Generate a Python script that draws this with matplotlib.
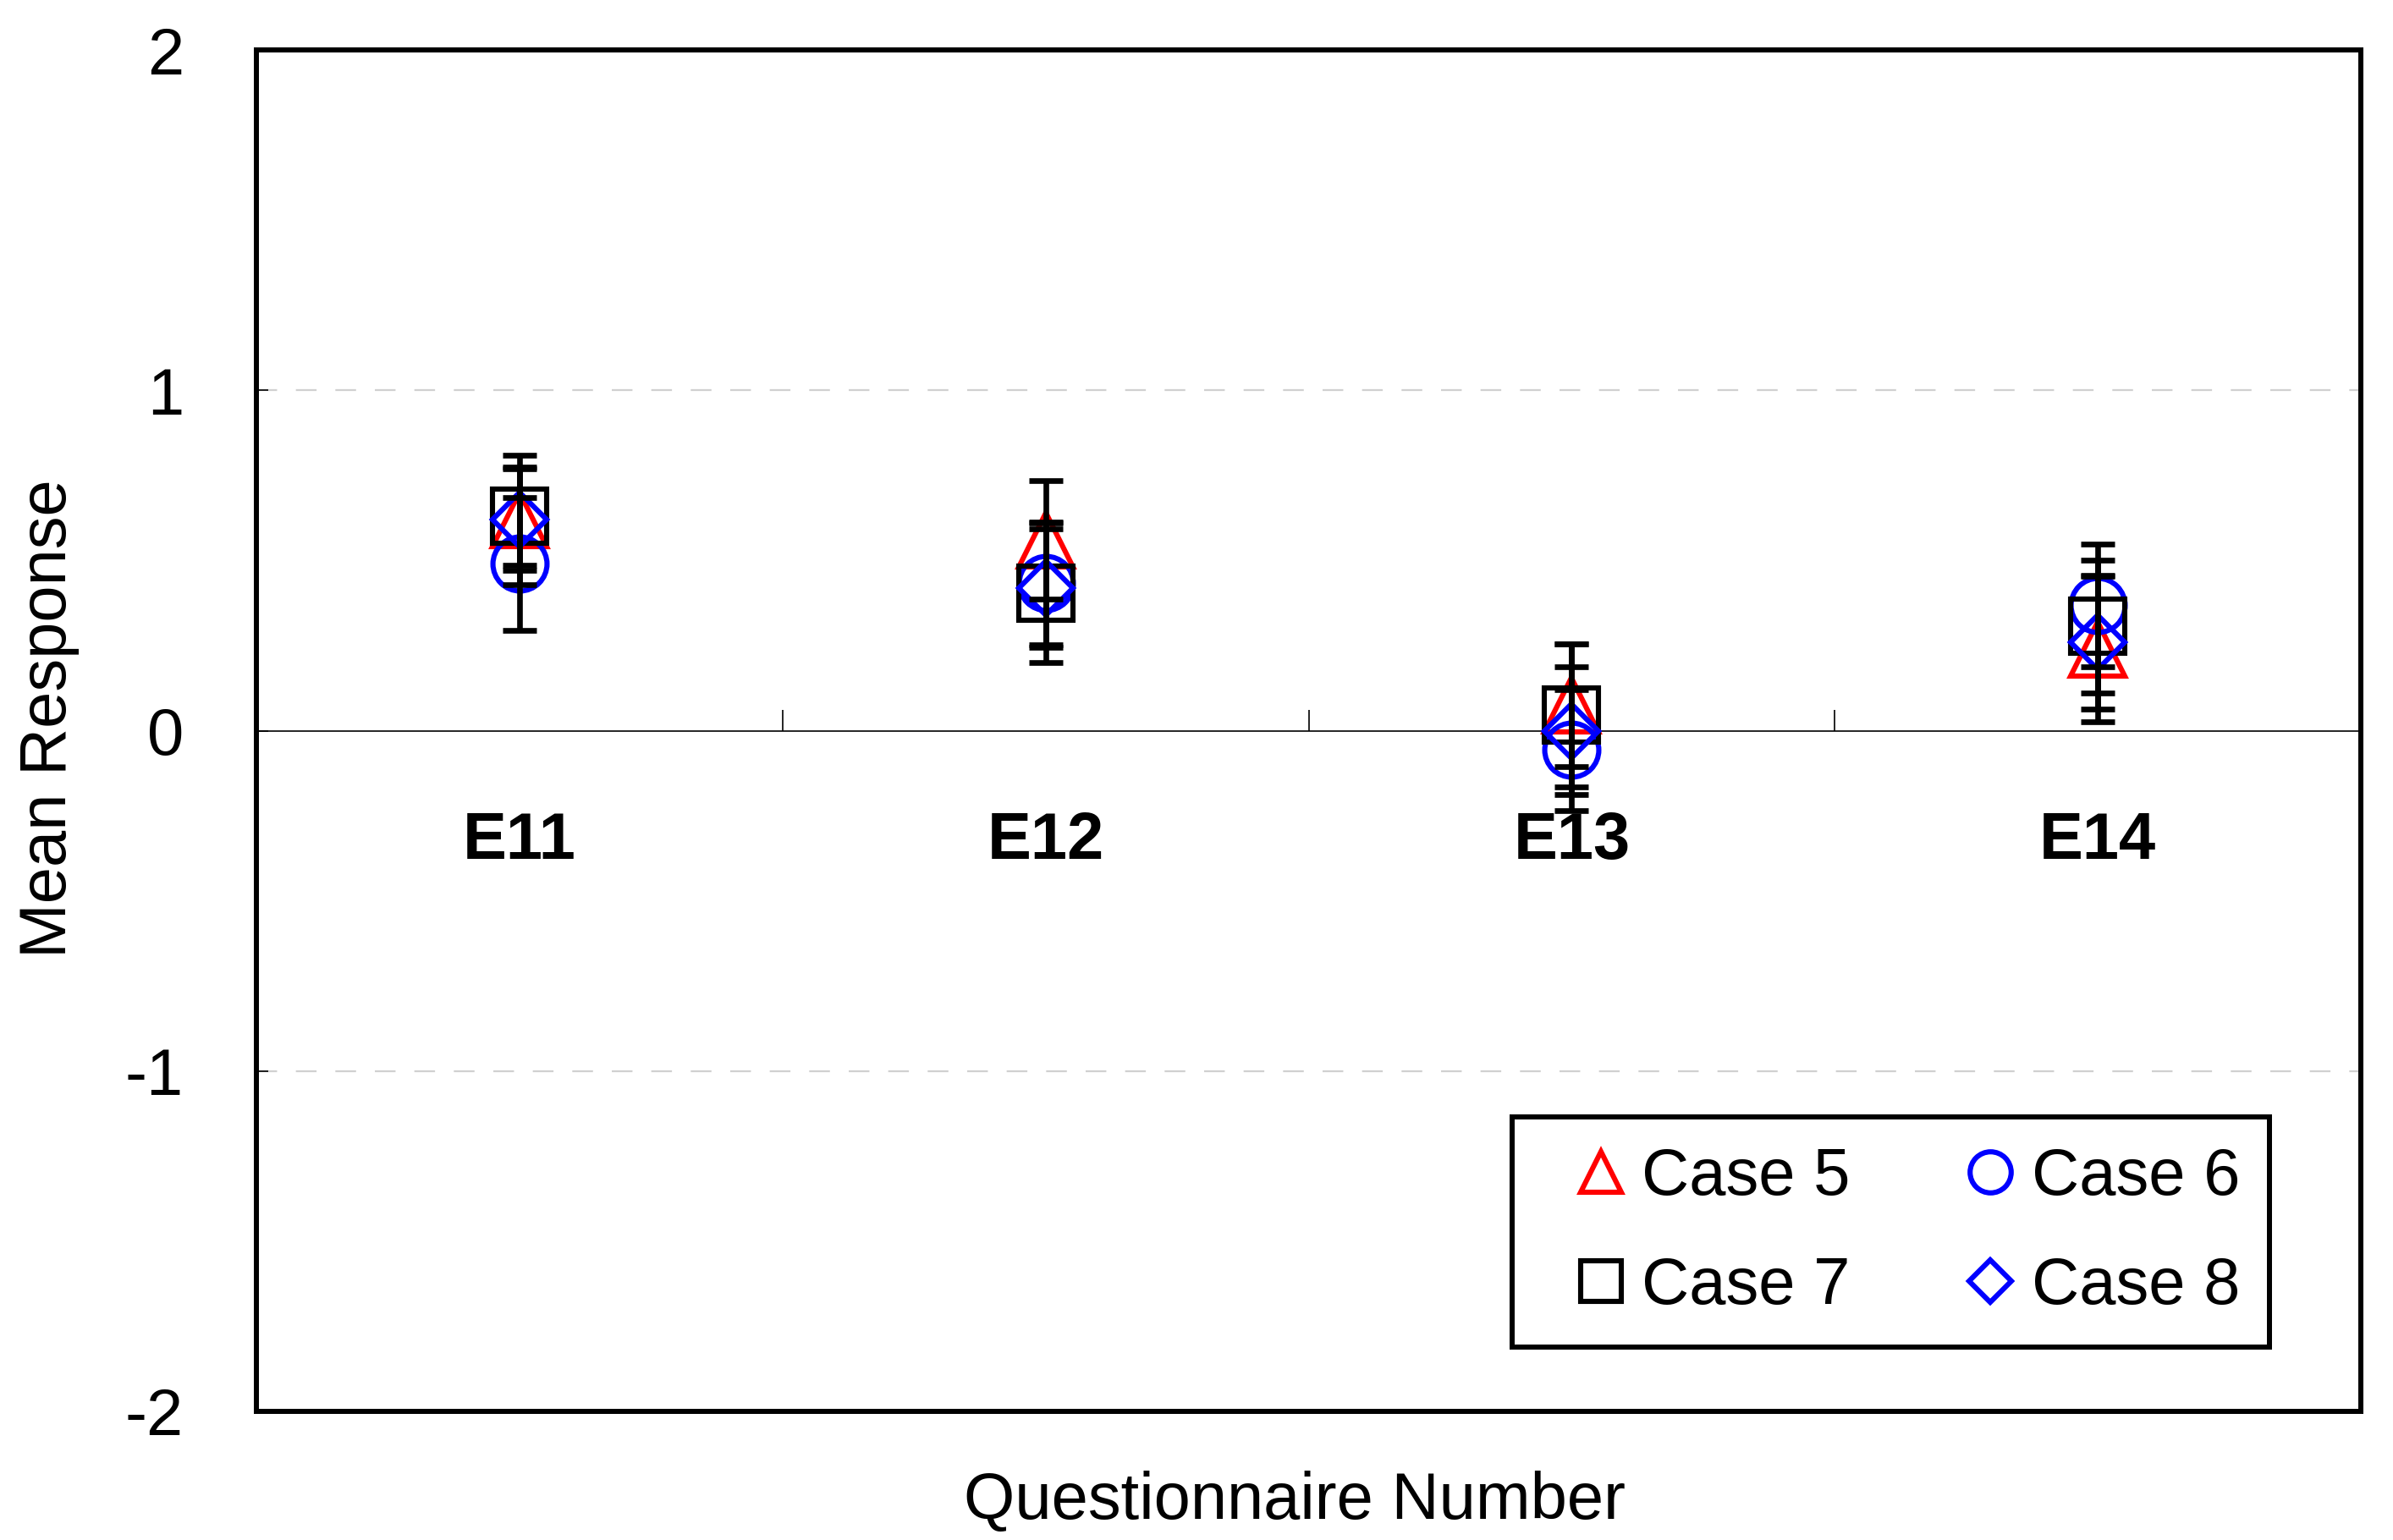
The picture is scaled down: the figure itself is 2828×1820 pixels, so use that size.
import matplotlib
matplotlib.use("Agg")
import matplotlib.pyplot as plt
import numpy as np

plt.rcParams['font.family'] = ['Liberation Sans', 'DejaVu Sans']

# ---- data ----
categories = ['E11', 'E12', 'E13', 'E14']
series_names = ['Case 5', 'Case 6', 'Case 7', 'Case 8']
case5 = [0.62, 0.56, 0.075, 0.24]
case6 = [0.49, 0.433, -0.057, 0.368]
case7 = [0.63, 0.405, 0.045, 0.306]
case8 = [0.62, 0.418, 0.0, 0.259]
err5 = [0.15, 0.174, 0.18, 0.215]
err6 = [0.195, 0.18, 0.177, 0.18]
err7 = [0.145, 0.205, 0.21, 0.195]
err8 = [0.19, 0.174, 0.187, 0.195]
y_ticks = [-2, -1, 0, 1, 2]
x_label = 'Questionnaire Number'
y_label = 'Mean Response'

# ---- style ----
markers = ['^', 'o', 's', 'D']
colors = ['#ff0000', '#0000ff', '#000000', '#0000ff']
msizes = [23, 23, 23, 16.5]
FS = 28

W, H = 2828, 1820
DPI = 200
fig = plt.figure(figsize=(W / DPI, H / DPI), dpi=DPI)
L, R, T, B = 303, 2790, 59, 1668
ax = fig.add_axes([L / W, 1 - B / H, (R - L) / W, (B - T) / H])

x = np.arange(1, len(categories) + 1)
values = [case5, case6, case7, case8]
errs = [err5, err6, err7, err8]

handles = []
for vals, e, m, c, ms, name in zip(values, errs, markers, colors, msizes, series_names):
    h, = ax.plot(x, vals, linestyle='none', marker=m, ms=ms, mfc='none',
                 mec=c, mew=2.2, zorder=3, label=name)
    handles.append(h)
for vals, e in zip(values, errs):
    eb = ax.errorbar(x, vals, yerr=e, fmt='none', ecolor='black', elinewidth=2.4,
                     capsize=7.2, capthick=2.4, zorder=4)

ax.set_xlim(0.5, len(categories) + 0.5)
ax.set_ylim(-2, 2)

# grid lines (dashed light gray)
for yv in y_ticks:
    if yv not in (0, y_ticks[0], y_ticks[-1]):
        ax.axhline(yv, color='#d0d0d0', lw=0.8, linestyle=(0, (11, 10)), zorder=1)

# y axis
ax.set_yticks(y_ticks)
ax.set_yticklabels([str(v) for v in y_ticks])
ax.tick_params(axis='y', direction='in', length=5, width=0.6, labelsize=FS, pad=31)
ax.set_xticks([])

for s in ax.spines.values():
    s.set_linewidth(2.16)
    s.set_color('black')

# category axis at y = 0
ax.axhline(0, color='black', lw=0.6, zorder=2)
bounds = x[:-1] + 0.5
tick_h = 0.06
ax.vlines(bounds, 0, tick_h, color='black', lw=0.6, zorder=2)
for xi, cat in zip(x, categories):
    ax.annotate(cat, xy=(xi, 0), xytext=(0, -54.4), textcoords='offset points',
                ha='center', va='baseline', fontsize=FS, fontweight='bold')

# labels
ax.set_ylabel(y_label, fontsize=FS)
ax.yaxis.set_label_coords(-0.084, 0.509)
fig.text(1530 / W, 1 - 1795 / H, x_label, fontsize=FS, ha='center', va='baseline')

# legend (row-wise order: Case 5, Case 6 / Case 7, Case 8)
leg = ax.legend(handles=[handles[0], handles[2], handles[1], handles[3]],
                ncol=2, loc='upper left',
                bbox_to_anchor=(1787 / W, 1 - 1320 / H), bbox_transform=fig.transFigure,
                fontsize=FS, frameon=True, fancybox=False, framealpha=1,
                edgecolor='black', borderpad=0.45, borderaxespad=0,
                handlelength=1.8, handletextpad=-0.28, columnspacing=1.23,
                labelspacing=0.72, markerscale=0.76)
leg.get_frame().set_linewidth(2.16)

fig.savefig('out.png', dpi=DPI)
